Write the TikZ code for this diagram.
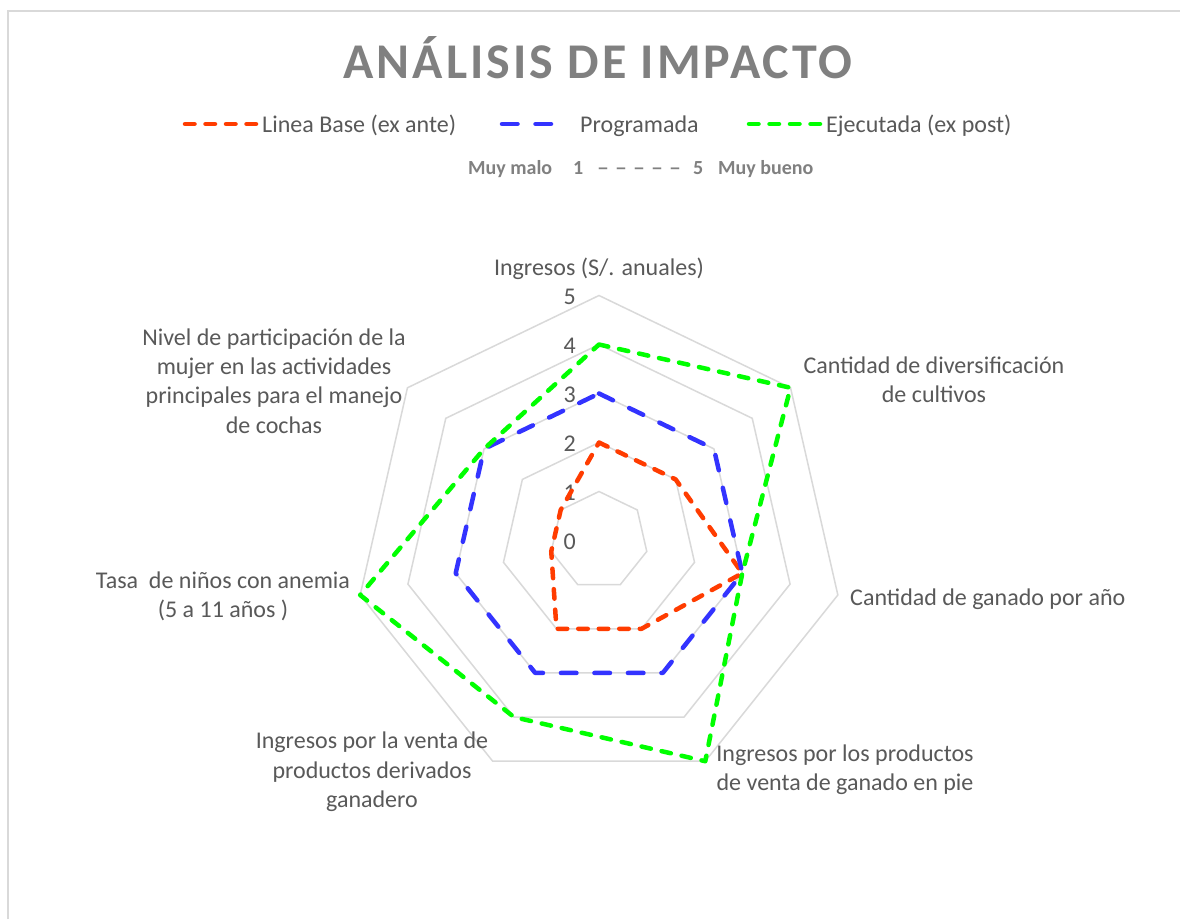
\documentclass[tikz,border=0pt]{standalone}
\usepackage{fontspec}
\setmainfont{Carlito}
\definecolor{gridgray}{HTML}{D9D9D9}
\definecolor{txtgray}{HTML}{595959}
\definecolor{ttlgray}{HTML}{808080}
\definecolor{serieRed}{HTML}{FF3C00}
\definecolor{serieBlue}{HTML}{3333FF}
\definecolor{serieGreen}{HTML}{00FF00}
\newcommand{\scdash}{\scalebox{1.2}[1]{–}}
\begin{document}
\begin{tikzpicture}[x=1pt,y=1pt,
  gridline/.style={draw=gridgray, line width=1.5pt, line join=miter},
  frameline/.style={draw=gridgray, line width=1.5pt},
  serie/.style={line width=4.5pt, line cap=round, line join=round},
  rojo/.style={serie, draw=serieRed, dash pattern=on 9.5pt off 11pt},
  azul/.style={serie, draw=serieBlue, dash pattern=on 15.5pt off 18pt},
  verde/.style={serie, draw=serieGreen, dash pattern=on 9.5pt off 11pt},
  cat/.style={text=txtgray, font=\fontsize{24}{29.3}\selectfont, inner sep=0pt, align=center},
  ticklab/.style={text=txtgray, font=\fontsize{24}{29.3}\selectfont, inner sep=0pt, anchor=east},
  legtxt/.style={text=txtgray, font=\fontsize{24}{29.3}\selectfont, inner sep=0pt, anchor=base west},
  subtxt/.style={text=ttlgray, font=\fontsize{20}{24}\selectfont\bfseries, inner sep=0pt, anchor=base west},
  titletxt/.style={text=ttlgray, font=\fontsize{50}{60}\selectfont\bfseries\addfontfeature{LetterSpace=6}, inner sep=0pt, anchor=base}
]
\useasboundingbox (0,0) rectangle (1180,-919);
\fill[white] (0,0) rectangle (1180,-919);
% chart frame (top and left edges visible)
\draw[frameline] (8,-919) -- (8,-11) -- (1180,-11);

% title
\node[titletxt] (title) at (598,-78) {ANÁLISIS DE IMPACTO};

% legend
\coordinate (lr1) at (185,-124); \coordinate (lr2) at (256,-124);
\draw[rojo] (lr1) -- (lr2);
\node[legtxt] (lrt) at (262,-132) {Linea Base (ex ante)};
\coordinate (lb1) at (502,-124); \coordinate (lb2) at (559,-124);
\draw[azul] (lb1) -- (lb2);
\node[legtxt] (lbt) at (580,-132) {Programada};
\coordinate (lg1) at (749,-124); \coordinate (lg2) at (820,-124);
\draw[verde] (lg1) -- (lg2);
\node[legtxt] (lgt) at (826,-132) {Ejecutada (ex post)};

% scale subtitle
\node[subtxt] (s1) at (468,-174.5) {Muy malo};
\node[subtxt] (s2) at (573,-174.5) {1};
\node[subtxt] (s3) at (597,-174.5) {\scdash\hspace{6pt}\scdash\hspace{6pt}\scdash\hspace{6pt}\scdash\hspace{6pt}\scdash};
\node[subtxt] (s4) at (693,-174.5) {5};
\node[subtxt] (s5) at (718,-174.5) {Muy bueno};

% radar
\begin{scope}[shift={(599,-540.5)}]
  \foreach \l in {1,...,5} {
    \draw[gridline] (90:{49*\l})
      \foreach \k in {1,...,6} { -- ({90-\k*360/7}:{49*\l}) } -- cycle;
  }
  \foreach \l in {0,...,5} {
    \node[ticklab] (tick\l) at (-23,{49*\l-1.5}) {\l};
  }
  \foreach \v [count=\i from 0] in {2,2,3,2,2,1,1} {
    \coordinate (r\i) at ({90-\i*360/7}:{49*\v});
  }
  \foreach \v [count=\i from 0] in {3,3,3,3,3,3,3} {
    \coordinate (b\i) at ({90-\i*360/7}:{49*\v});
  }
  \foreach \v [count=\i from 0] in {4,5,3,5,4,5,3} {
    \coordinate (g\i) at ({90-\i*360/7}:{49*\v});
  }
  \draw[rojo] (r0) -- (r1) -- (r2) -- (r3) -- (r4) -- (r5) -- (r6) -- cycle;
  \draw[azul] (b0) -- (b1) -- (b2) -- (b3) -- (b4) -- (b5) -- (b6) -- cycle;
  \draw[verde] (g0) -- (g1) -- (g2) -- (g3) -- (g4) -- (g5) -- (g6) -- cycle;
\end{scope}

% category labels
\node[cat] (c0) at (599,-269) {Ingresos (S/. anuales)};
\node[cat] (c1) at (934,-380) {Cantidad de diversificación\\de cultivos};
\node[cat, anchor=west] (c2) at (850,-599) {Cantidad de ganado por año};
\node[cat] (c3) at (845,-770) {Ingresos por los productos\\de venta de ganado en pie};
\node[cat] (c4) at (372,-772) {Ingresos por la venta de\\productos derivados\\ganadero};
\node[cat] (c5) at (223,-596.5) {Tasa \ de niños con anemia\\(5 a 11 años )};
\node[cat] (c6) at (274,-381) {Nivel de participación de la\\mujer en las actividades\\principales para el manejo\\de cochas};
\end{tikzpicture}
\end{document}
